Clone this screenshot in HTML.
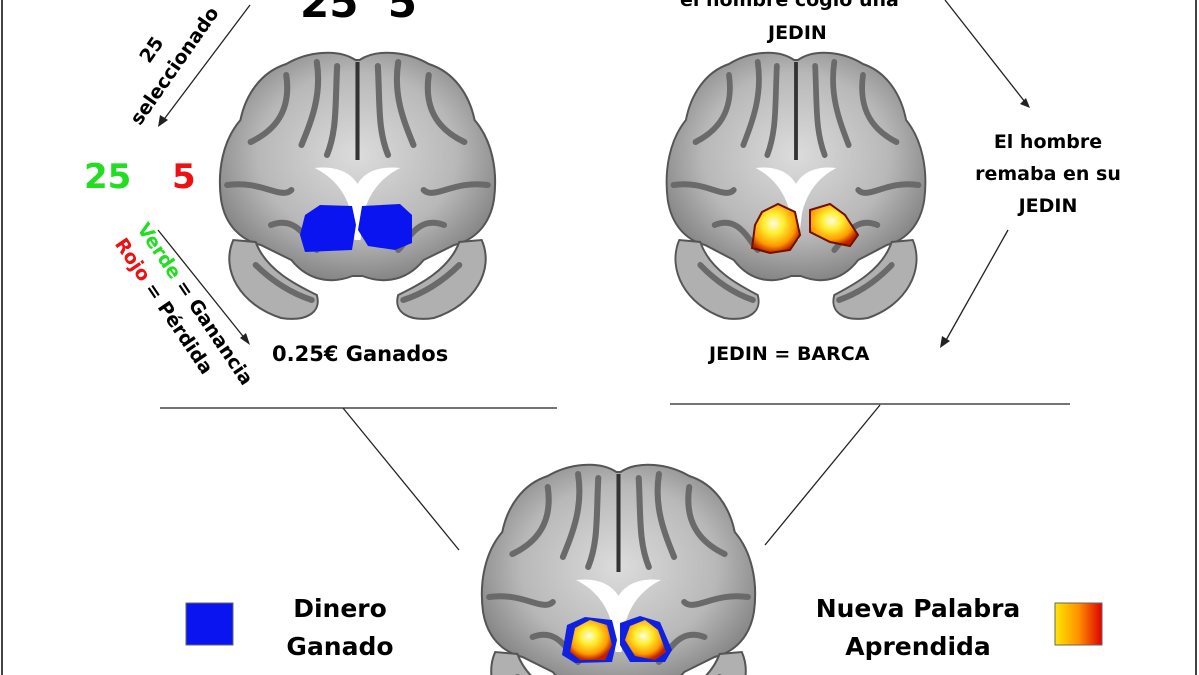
<!DOCTYPE html>
<html><head><meta charset="utf-8"><style>
html,body{margin:0;padding:0;background:#fff;overflow:hidden;width:1199px;height:675px}
#c{position:relative;width:1199px;height:675px;overflow:hidden;background:#fff;font-family:"Liberation Sans",sans-serif;font-weight:bold;color:#000}
.t{position:absolute;white-space:nowrap;line-height:1}
svg.main{position:absolute;left:0;top:0}
</style></head><body><div id="c">
<svg class="main" width="1199" height="675" viewBox="0 0 1199 675" overflow="hidden">
<defs>
<radialGradient id="g" cx="50%" cy="45%" r="60%"><stop offset="0" stop-color="#dcdcdc"/><stop offset="0.6" stop-color="#b8b8b8"/><stop offset="1" stop-color="#7a7a7a"/></radialGradient>
<radialGradient id="fl" cx="45%" cy="40%" r="60%"><stop offset="0" stop-color="#fffbe0"/><stop offset="0.35" stop-color="#ffee30"/><stop offset="0.75" stop-color="#ff9c00"/><stop offset="1" stop-color="#c02000"/></radialGradient>
<linearGradient id="lg" x1="0" x2="1"><stop offset="0" stop-color="#ffe600"/><stop offset="0.5" stop-color="#ff9000"/><stop offset="1" stop-color="#e00000"/></linearGradient>
<symbol id="brain" viewBox="0 0 280 270" preserveAspectRatio="none">
<path d="M138,10 C120,-2 90,2 70,14 C45,22 30,45 25,70 C8,90 2,120 6,150 C10,175 25,190 45,195 L75,210 C95,235 120,232 135,226 L145,226 C160,232 185,235 205,210 L235,195 C255,190 270,175 274,150 C278,120 272,90 255,70 C250,45 235,22 210,14 C190,2 160,-2 142,10 Z" fill="url(#g)" stroke="#555" stroke-width="2"/>
<path d="M18,190 C5,220 25,255 65,268 C90,272 105,262 100,245 C80,235 50,220 40,192 Z" fill="#b0b0b0" stroke="#555" stroke-width="2"/>
<path d="M262,190 C275,220 255,255 215,268 C190,272 175,262 180,245 C200,235 230,220 240,192 Z" fill="#b0b0b0" stroke="#555" stroke-width="2"/>
<path d="M140,12 L140,110" stroke="#333" stroke-width="4"/>
<g fill="none" stroke="#6a6a6a" stroke-width="6" stroke-linecap="round">
<path d="M70,25 C75,60 60,80 35,92"/><path d="M100,12 C105,45 95,70 85,95"/><path d="M120,16 C118,55 120,80 110,105"/>
<path d="M210,25 C205,60 220,80 245,92"/><path d="M180,12 C175,45 185,70 195,95"/><path d="M160,16 C162,55 160,80 170,105"/>
<path d="M12,135 C45,130 65,150 75,140"/><path d="M268,135 C235,130 215,150 205,140"/>
<path d="M55,175 C80,165 90,190 100,200"/><path d="M225,175 C200,165 190,190 180,200"/>
<path d="M40,215 C60,235 80,245 95,250"/><path d="M240,215 C220,235 200,245 185,250"/>
</g>
<path d="M98,118 C122,115 135,125 140,134 C145,125 158,115 182,118 C162,128 150,145 146,165 L143,190 L137,190 L134,165 C130,145 118,128 98,118 Z" fill="#fff"/>
</symbol>
</defs>
<line x1="2" y1="0" x2="2" y2="675" stroke="#444" stroke-width="2"/>
<line x1="1196" y1="0" x2="1196" y2="675" stroke="#444" stroke-width="2"/>
<use href="#brain" x="215" y="50" width="285" height="270"/>
<use href="#brain" x="662" y="50" width="268" height="270"/>
<svg x="477" y="462" width="283" height="213" viewBox="0 0 283 213" overflow="hidden">
<use href="#brain" x="0" y="0" width="283" height="270"/>
</svg>
<path d="M305,215 L320,205 L352,206 L356,225 L352,250 L305,252 L300,235 Z" fill="#0a14f0"/>
<path d="M362,206 L400,204 L412,215 L412,243 L395,250 L368,246 L358,230 Z" fill="#0a14f0"/>
<path d="M762,212 L778,204 L795,212 L800,235 L790,250 L770,253 L752,248 L755,225 Z" fill="url(#fl)" stroke="#701000" stroke-width="2"/>
<path d="M810,210 L830,204 L845,215 L858,235 L850,246 L830,242 L810,232 Z" fill="url(#fl)" stroke="#701000" stroke-width="2"/>
<path d="M567,625 L585,617 L612,620 L617,640 L612,662 L575,663 L562,655 Z" fill="#1020e0"/>
<path d="M620,623 L640,616 L660,622 L672,650 L665,662 L630,662 L620,645 Z" fill="#1020e0"/>
<path d="M575,628 L590,620 L607,625 L612,645 L605,660 L580,660 L570,652 Z" fill="url(#fl)"/>
<path d="M630,626 L645,620 L658,630 L666,652 L655,660 L635,656 L625,640 Z" fill="url(#fl)"/>
<g stroke="#222" stroke-width="1.3" fill="none">
<line x1="250" y1="5" x2="162" y2="122"/>
<line x1="158" y1="230" x2="246" y2="340"/>
<line x1="945" y1="0" x2="1025" y2="102"/>
<line x1="1008" y1="230" x2="945" y2="342"/>
<line x1="160" y1="408" x2="557" y2="408"/>
<line x1="670" y1="404" x2="1070" y2="404"/>
<line x1="343" y1="408" x2="459" y2="550"/>
<line x1="880" y1="405" x2="765" y2="545"/>
</g>
<g fill="#222">
<polygon points="158,127 160,115 168,120"/>
<polygon points="250,345 240,338 246,333"/>
<polygon points="1030,108 1020,104 1026,98"/>
<polygon points="940,348 942,336 950,341"/>
</g>
<rect x="186" y="603" width="47" height="42" fill="#0a14f0" stroke="#666"/>
<rect x="1055" y="603" width="47" height="42" fill="url(#lg)" stroke="#666"/>
</svg>
<div class="t" style="left:300px;top:-18px;font-size:42px;font-family:'DejaVu Sans',sans-serif">25&nbsp;&nbsp;5</div>
<div class="t" style="left:84px;top:160px;font-size:34px;color:#22dd22;font-family:'DejaVu Sans',sans-serif">25</div>
<div class="t" style="left:172px;top:160px;font-size:34px;color:#ee1111;font-family:'DejaVu Sans',sans-serif">5</div>
<div class="t" style="left:94px;top:30px;font-size:19px;text-align:center;transform:rotate(-55deg);line-height:28px;font-family:'DejaVu Sans',sans-serif">25<br>seleccionado</div>
<div class="t" style="left:88px;top:285px;font-size:19px;line-height:27px;transform:rotate(56deg);transform-origin:center;font-family:'DejaVu Sans',sans-serif"><span style="color:#22dd22">Verde</span> = Ganancia<br><span style="color:#ee1111">Rojo</span> = Pérdida</div>
<div class="t" style="left:272px;top:344px;font-size:21px;font-family:'DejaVu Sans',sans-serif">0.25€ Ganados</div>
<div class="t" style="left:680px;top:-9px;font-size:19px;font-family:'DejaVu Sans',sans-serif">el hombre cogio una</div>
<div class="t" style="left:768px;top:24px;font-size:19px;font-family:'DejaVu Sans',sans-serif">JEDIN</div>
<div class="t" style="left:958px;top:126px;font-size:19px;text-align:center;line-height:32px;width:180px;font-family:'DejaVu Sans',sans-serif">El hombre<br>remaba en su<br>JEDIN</div>
<div class="t" style="left:709px;top:345px;font-size:19px;font-family:'DejaVu Sans',sans-serif">JEDIN = BARCA</div>
<div class="t" style="left:250px;top:590px;font-size:25px;text-align:center;width:180px;line-height:38px;font-family:'DejaVu Sans',sans-serif">Dinero<br>Ganado</div>
<div class="t" style="left:788px;top:590px;font-size:25px;text-align:center;width:260px;line-height:38px;font-family:'DejaVu Sans',sans-serif">Nueva Palabra<br>Aprendida</div>
</div></body></html>
